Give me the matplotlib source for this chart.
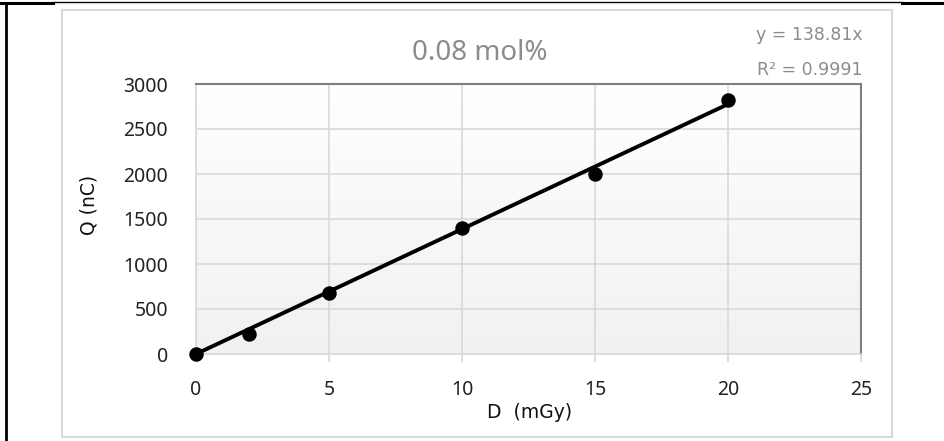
"""
Charge vs. dose calibration, 0.08 mol% sample, with linear trendline.
"""

import numpy as np
import matplotlib.pyplot as plt
from matplotlib.lines import Line2D
from matplotlib.patches import Rectangle
from matplotlib.colors import LinearSegmentedColormap

dose = [0, 2, 5, 10, 15, 20]
charge = [0, 225, 675, 1400, 2005, 2822]
slope = 138.81
r2 = 0.9991
x_ticks = [0, 5, 10, 15, 20, 25]
y_ticks = [0, 500, 1000, 1500, 2000, 2500, 3000]

W, H = 945, 441
GRID = '#d9d9d9'
LABEL_GRAY = '#8c8c8c'


def fx(px):
    return px / W


def fy(py):
    return 1 - py / H


fig = plt.figure(figsize=(W / 100, H / 100), dpi=100)
plt.rcParams['font.family'] = ['Noto Sans', 'DejaVu Sans']

# page border lines (black) and chart frame (light gray)
fig.add_artist(Line2D([fx(6), fx(6)], [fy(3), 0], color='black', lw=2.0))
fig.add_artist(Line2D([0, fx(53)], [fy(3), fy(3)], color='black', lw=2.2))
fig.add_artist(Line2D([fx(53), fx(902)], [fy(2), fy(2)], color='black', lw=1.0))
fig.add_artist(Line2D([fx(902), 1], [fy(3), fy(3)], color='black', lw=2.2))
fig.add_artist(Rectangle((fx(62), fy(437)), fx(892) - fx(62), fy(10) - fy(437),
                         fill=False, edgecolor=GRID, lw=1.5))

ax = fig.add_axes([fx(196), fy(354), fx(861) - fx(196), fy(84) - fy(354)])

# vertical gradient background, white at top to light gray at bottom
grad = np.linspace(1, 0, 256).reshape(-1, 1)
bg = LinearSegmentedColormap.from_list('bg', ['#f1f1f1', '#ffffff'])
ax.imshow(grad, extent=[0, 1, 0, 1], transform=ax.transAxes, aspect='auto',
          cmap=bg, zorder=0)

ax.set_xlim(0, 25)
ax.set_ylim(0, 3000)
ax.set_xticks(x_ticks)
ax.set_yticks(y_ticks)
ax.grid(True, color=GRID, lw=1.2, zorder=1)
ax.set_axisbelow(True)

ax.tick_params(axis='x', length=6, color=GRID, width=1.2, pad=13,
               labelsize=14, labelcolor='#222222')
ax.tick_params(axis='y', length=0, pad=20, labelsize=14, labelcolor='#222222')

for side in ('left', 'bottom'):
    ax.spines[side].set_color(GRID)
    ax.spines[side].set_linewidth(1.2)
for side in ('top', 'right'):
    ax.spines[side].set_color('#7f7f7f')
    ax.spines[side].set_linewidth(1.5)

# trendline y = slope * x
xt = np.array([dose[0], dose[-1]])
ax.plot(xt, slope * xt, color='black', lw=2.8, zorder=3, solid_capstyle='butt')
ax.plot(dose, charge, 'o', color='black', ms=9.4, zorder=4, clip_on=False)

fig.text(fx(530), fy(413), 'D  (mGy)', ha='center', va='center',
         family='DejaVu Sans', fontsize=13.5, color='#111111')
fig.text(fx(89), fy(205), 'Q (nC)', ha='center', va='center', rotation=90,
         family='DejaVu Sans', fontsize=13.5, color='#111111')

fig.text(fx(480), fy(53), '0.08 mol%', ha='center', va='center',
         fontsize=20, color=LABEL_GRAY)
fig.text(fx(863), fy(35), f'y = {slope}x', ha='right', va='center',
         family='DejaVu Sans', fontsize=12.5, color=LABEL_GRAY)
fig.text(fx(863), fy(70), f'R² = {r2}', ha='right', va='center',
         family='DejaVu Sans', fontsize=12.5, color=LABEL_GRAY)

fig.savefig('out.png', dpi=100)
